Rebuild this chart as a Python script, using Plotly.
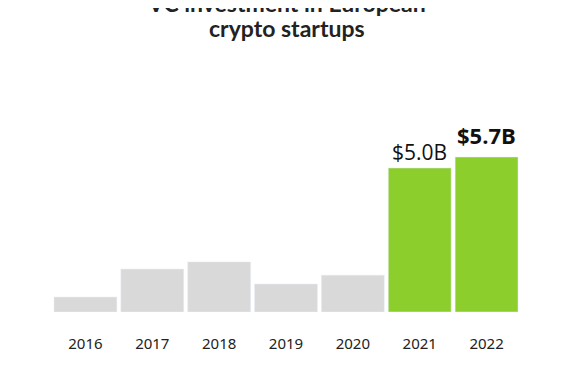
import plotly.graph_objects as go

years = ["2016", "2017", "2018", "2019", "2020", "2021", "2022"]
values = [0.52, 1.49, 1.74, 0.97, 1.28, 5.0, 5.38]
colors = ["#d9d9d9"] * 5 + ["#8cce2c"] * 2
label_years = ["2021", "2022"]
label_values = [5.0, 5.38]
label_texts = ["$5.0B", "<b>$5.7B</b>"]
label_sizes = [21, 22]
label_shifts = [0, 5]
title_lines = ["VC investment in European", "crypto startups"]
title_ys = [1.458, 1.34]

fig = go.Figure(go.Bar(x=years, y=values, marker_color=colors, hoverinfo="skip"))

for yr, v, t, sz, s in zip(label_years, label_values, label_texts, label_sizes, label_shifts):
    fig.add_annotation(x=years.index(yr), y=v, text=t, showarrow=False, yanchor="bottom",
                       yshift=s, font=dict(family="Open Sans", size=sz, color="#111"))

for line, ty in zip(title_lines, title_ys):
    fig.add_annotation(xref="paper", yref="paper", x=0.502, y=ty, xanchor="center",
                       yanchor="middle", showarrow=False, text="<b>" + line + "</b>",
                       font=dict(family="Lato", size=23, color="#222"))

fig.update_layout(
    width=584, height=370,
    margin=dict(l=44, r=72, t=92, b=66),
    paper_bgcolor="white", plot_bgcolor="white",
    bargap=0.06,
    showlegend=False,
    xaxis=dict(type="category", range=[-0.5, len(years) - 0.5], showgrid=False,
               showline=False, zeroline=False,
               ticks="outside", ticklen=18, tickcolor="white",
               tickfont=dict(family="Noto Sans", size=15, color="#222")),
    yaxis=dict(visible=False, range=[0, 7.36]),
)

fig.write_html("out.html")
